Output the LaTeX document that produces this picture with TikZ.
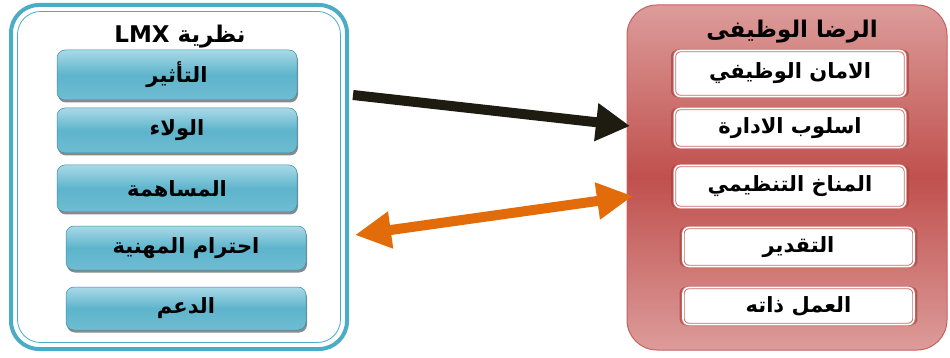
\documentclass[tikz,border=0pt]{standalone}
\usepackage{fontspec}
\usetikzlibrary{arrows.meta,shadows}
\TeXXeTstate=1
\newfontfamily\arabicfont[Script=Arabic]{DejaVu Sans}
\newcommand\artxt[1]{{\arabicfont\bfseries\fontsize{21}{24}\selectfont\beginR #1\endR}}
\newcommand\artitle[1]{{\arabicfont\bfseries\fontsize{23}{26}\selectfont\beginR #1\endR}}
\definecolor{bluemain}{HTML}{4BACC6}
\definecolor{bluelight}{HTML}{A9D9E7}
\definecolor{bluedark}{HTML}{3A8FA8}
\definecolor{redmain}{HTML}{C0504D}
\definecolor{redlight}{HTML}{DC9C9A}
\definecolor{reddark}{HTML}{A8413E}
\definecolor{arrowblack}{HTML}{1E1C11}
\definecolor{arroworange}{HTML}{E36C0A}
\tikzset{
  leftframe/.style={draw=bluemain, line width=4pt, rounded corners=28pt, fill=white},
  bluebox/.style={rounded corners=8pt, draw=bluedark, line width=0.5pt,
    top color=bluelight, bottom color=bluemain!80, middle color=bluemain!90,
    drop shadow={shadow xshift=1pt, shadow yshift=-2.5pt, fill=black!65, opacity=0.7},
    minimum width=240pt, text=black},
  rightframe/.style={draw=redmain!90, line width=1pt, rounded corners=30pt,
    top color=redlight, bottom color=redlight, middle color=redmain},
  whitebox/.style={rounded corners=6pt, draw=redmain!85, double=white, double distance=1.6pt,
    line width=0.9pt, fill=white, minimum width=231pt, text=black,
    drop shadow={shadow xshift=0pt, shadow yshift=0pt, shadow scale=1.03, fill=reddark, opacity=0.7}},
  title/.style={text=black},
  bigarrow/.style={line width=10pt}
}
\begin{document}
\begin{tikzpicture}[x=1pt,y=-1pt]
\useasboundingbox (0,0) rectangle (950,358);
% left frame
\node[leftframe, minimum width=336pt, minimum height=344pt, inner sep=0pt] (L) at (179,177) {};
\node[draw=bluemain, line width=0.8pt, rounded corners=23pt, minimum width=323pt, minimum height=331pt, inner sep=0pt] (Lin) at (179,177) {};
\node[title] (Lt) at (180,37) {\artitle{نظرية LMX}};
\node[bluebox, minimum height=50pt] (b1) at (177,75) {\artxt{التأثير}};
\node[bluebox, minimum height=45pt] (b2) at (177,130.5) {\artxt{الولاء}};
\node[bluebox, minimum height=47pt] (b3) at (177,188.5) {\artxt{المساهمة}};
\node[bluebox, minimum height=44pt] (b4) at (186,248) {\artxt{احترام المهنية}};
\node[bluebox, minimum height=43pt] (b5) at (186,308.5) {\artxt{الدعم}};
% right frame
\node[rightframe, minimum width=320pt, minimum height=345pt, inner sep=0pt] (R) at (787,177.5) {};
\node[title] (Rt) at (792,32) {\artitle{الرضا الوظيفى}};
\node[whitebox, minimum height=46pt] (w1) at (790,73.5) {\artxt{الامان الوظيفي}};
\node[whitebox, minimum height=39pt] (w2) at (790,128) {\artxt{اسلوب الادارة}};
\node[whitebox, minimum height=42pt] (w3) at (790,186.5) {\artxt{المناخ التنظيمي}};
\node[whitebox, minimum height=39pt] (w4) at (798.5,247) {\artxt{التقدير}};
\node[whitebox, minimum height=37pt] (w5) at (798.5,306) {\artxt{العمل ذاته}};
% arrows
\coordinate (a1s) at (353,95);
\coordinate (a1e) at (630,126);
\coordinate (a2s) at (355,235);
\coordinate (a2e) at (633,196);
\draw[bigarrow, arrowblack, -{Triangle[length=34pt,width=36pt]}] (a1s) -- (a1e);
\draw[bigarrow, arroworange, {Triangle[length=36pt,width=35pt]}-{Triangle[length=36pt,width=35pt]}] (a2s) -- (a2e);
\end{tikzpicture}
\end{document}
